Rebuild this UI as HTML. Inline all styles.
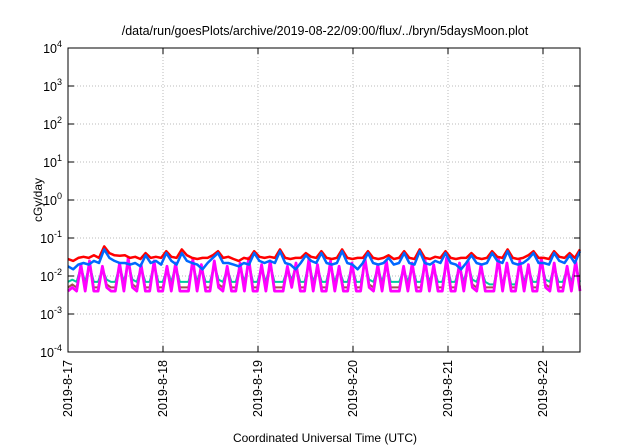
<!DOCTYPE html>
<html><head><meta charset="utf-8"><style>
body{margin:0;background:#fff;}
svg{display:block;font-family:"Liberation Sans",sans-serif;}
</style></head><body>
<svg id="chart" width="640" height="448" viewBox="0 0 640 448" xmlns="http://www.w3.org/2000/svg">
<text x="325" y="35" font-size="12.5" text-anchor="middle" fill="#000">/data/run/goesPlots/archive/2019-08-22/09:00/flux/../bryn/5daysMoon.plot</text>
<text transform="translate(42,200) rotate(-90)" font-size="12" text-anchor="middle">cGy/day</text>
<text x="325" y="442" font-size="12" text-anchor="middle">Coordinated Universal Time (UTC)</text>
<g id="grid"></g>
<g id="series"></g>
<rect x="68" y="48" width="512" height="304" fill="none" stroke="#000" stroke-width="1"/>
<g id="axes"></g>
</svg>
<script>
const xTickLabels = ["2019-8-17","2019-8-18","2019-8-19","2019-8-20","2019-8-21","2019-8-22"];
const yTickExps = [4,3,2,1,0,-1,-2,-3,-4];
const xDays = [0,1,2,3,4,5];
const red = [.028,.025,.03,.032,.03,.035,.03,.06,.04,.035,.034,.035,.03,.032,.028,.04,.03,.032,.03,.045,.032,.03,.05,.035,.03,.028,.03,.03,.035,.045,.03,.032,.028,.025,.03,.028,.045,.032,.03,.032,.03,.05,.03,.028,.03,.03,.04,.032,.03,.045,.03,.028,.03,.05,.03,.028,.03,.03,.045,.03,.028,.03,.035,.028,.03,.045,.03,.028,.05,.03,.028,.032,.03,.045,.03,.028,.03,.03,.04,.03,.028,.03,.045,.032,.03,.05,.03,.028,.03,.035,.045,.03,.03,.028,.045,.032,.03,.04,.03,.05];
const blue = [.018,.015,.02,.022,.02,.025,.022,.05,.03,.025,.022,.022,.02,.022,.018,.035,.022,.025,.02,.04,.025,.02,.04,.025,.022,.02,.015,.022,.03,.04,.022,.022,.02,.018,.022,.02,.04,.025,.022,.025,.022,.045,.022,.02,.015,.022,.035,.025,.022,.04,.022,.02,.022,.045,.022,.02,.015,.022,.04,.022,.02,.022,.03,.02,.022,.04,.022,.02,.045,.022,.02,.025,.022,.04,.022,.02,.015,.022,.035,.022,.02,.022,.04,.025,.022,.045,.022,.02,.022,.028,.04,.022,.022,.02,.04,.025,.022,.035,.022,.045];
const magenta = [.004,.005,.004,.02,.004,.025,.004,.004,.018,.005,.004,.004,.022,.004,.03,.005,.004,.02,.004,.004,.025,.004,.004,.018,.004,.022,.004,.004,.004,.028,.004,.02,.004,.004,.025,.005,.004,.018,.004,.004,.022,.004,.03,.004,.004,.02,.004,.025,.004,.004,.004,.018,.005,.022,.004,.004,.028,.004,.02,.004,.004,.025,.004,.018,.004,.004,.022,.004,.004,.03,.005,.004,.02,.004,.025,.004,.004,.004,.018,.004,.022,.004,.004,.026,.004,.02,.004,.004,.03,.004,.004,.022,.004,.025,.005,.004,.02,.004,.004,.004,.03,.004,.022,.004,.004,.025,.004,.02,.004,.004,.03,.005,.004,.022,.004,.004,.018,.004,.025,.004];
const teal = [.007,.008,.007,.017,.007,.02,.007,.007,.015,.008,.007,.007,.018,.007,.022,.008,.007,.016,.007,.007,.02,.007,.007,.015,.007,.018,.007,.007,.007,.022,.007,.016,.007,.007,.02,.008,.007,.015,.007,.007,.018,.007,.022,.007,.007,.016,.007,.02,.007,.007,.007,.015,.008,.018,.007,.007,.022,.007,.016,.007,.007,.02,.007,.015,.007,.007,.018,.007,.007,.022,.008,.007,.016,.007,.02,.007,.007,.007,.015,.007,.018,.007,.007,.02,.007,.016,.007,.007,.022,.007,.007,.018,.007,.02,.008,.007,.016,.007,.006,.006,.022,.006,.018,.006,.006,.02,.007,.016,.007,.007,.022,.008,.007,.018,.007,.007,.015,.007,.02,.007];
const brown = [.005,.006,.005,.018,.005,.022,.005,.005,.016,.006,.005,.005,.02,.005,.026,.006,.005,.018,.005,.005,.022,.005,.005,.016,.005,.02,.005,.005,.005,.024,.005,.018,.005,.005,.022,.006,.005,.016,.005,.005,.02,.005,.026,.005,.005,.018,.005,.022,.005,.005,.005,.016,.006,.02,.005,.005,.024,.005,.018,.005,.005,.022,.005,.016,.005,.005,.02,.005,.005,.026,.006,.005,.018,.005,.022,.005,.005,.005,.016,.005,.02,.005,.005,.023,.005,.018,.005,.005,.026,.005,.005,.02,.005,.022,.006,.005,.018,.005,.005,.005,.026,.005,.02,.005,.005,.022,.005,.018,.005,.005,.026,.006,.005,.02,.005,.005,.016,.005,.022,.005];
const seriesList = [["teal-series","#00c8a0",teal,2],["brown-series","#a0524d",brown,2],["magenta-series","#ff00ff",magenta,2.8],["red-series","#ff0000",red,2.5],["blue-series","#0068ff",blue,2.5]];
const X0=68,X1=580,Y0=48,Y1=352,dayPx=95;
const xDay = d => X0 + d*dayPx;
const yLog = v => Y0 + (4 - Math.log10(v)) * ((Y1-Y0)/8);
const NS="http://www.w3.org/2000/svg";
const grid=document.getElementById('grid'), axes=document.getElementById('axes'), ser=document.getElementById('series');
function mk(tag,attrs,parent){const e=document.createElementNS(NS,tag);for(const k in attrs)e.setAttribute(k,attrs[k]);parent.appendChild(e);return e;}
yTickExps.forEach(ex=>{
  const y=yLog(Math.pow(10,ex));
  if(ex<4&&ex>-4){const g=mk('line',{x1:X0,x2:X1,y1:y,y2:y,stroke:'#bbb','stroke-dasharray':'1,2'},grid);
  
  }
  const t1=mk('line',{x1:X0,x2:X0+6,y1:y,y2:y,stroke:'#000'},axes);
  
  
  const t2=mk('line',{x1:X1-6,x2:X1,y1:y,y2:y,stroke:'#000'},axes);
  
  
  const tx=mk('text',{x:X0-6,y:y+5,'font-size':'12.5','text-anchor':'end'},axes);
  
  
  tx.innerHTML='10<tspan dy="-6" font-size="9">'+ex+'</tspan>';
});
xDays.forEach((d,i)=>{
  const x=xDay(d);
  if(d>0){const g=mk('line',{x1:x,x2:x,y1:Y0,y2:Y1,stroke:'#bbb','stroke-dasharray':'1,2'},grid);
  
  }
  const t1=mk('line',{x1:x,x2:x,y1:Y1-6,y2:Y1,stroke:'#000'},axes);
  
  
  const t2=mk('line',{x1:x,x2:x,y1:Y0,y2:Y0+6,stroke:'#000'},axes);
  
  
  const tx=mk('text',{transform:'translate('+(x+4)+','+(Y1+8)+') rotate(-90)','font-size':'12.5','text-anchor':'end'},axes);
  
  
  tx.textContent=xTickLabels[i];
});
const spanDays=(X1-X0)/dayPx;
seriesList.forEach(([name,col,vals,w])=>{
  const n=vals.length;
  const pts=vals.map((v,i)=>xDay(i*spanDays/(n-1)).toFixed(1)+','+yLog(v).toFixed(1)).join(' ');
  const p=mk('polyline',{points:pts,fill:'none',stroke:col,'stroke-width':w,'stroke-linejoin':'round'},ser);
  
  
});
</script>
</body></html>
